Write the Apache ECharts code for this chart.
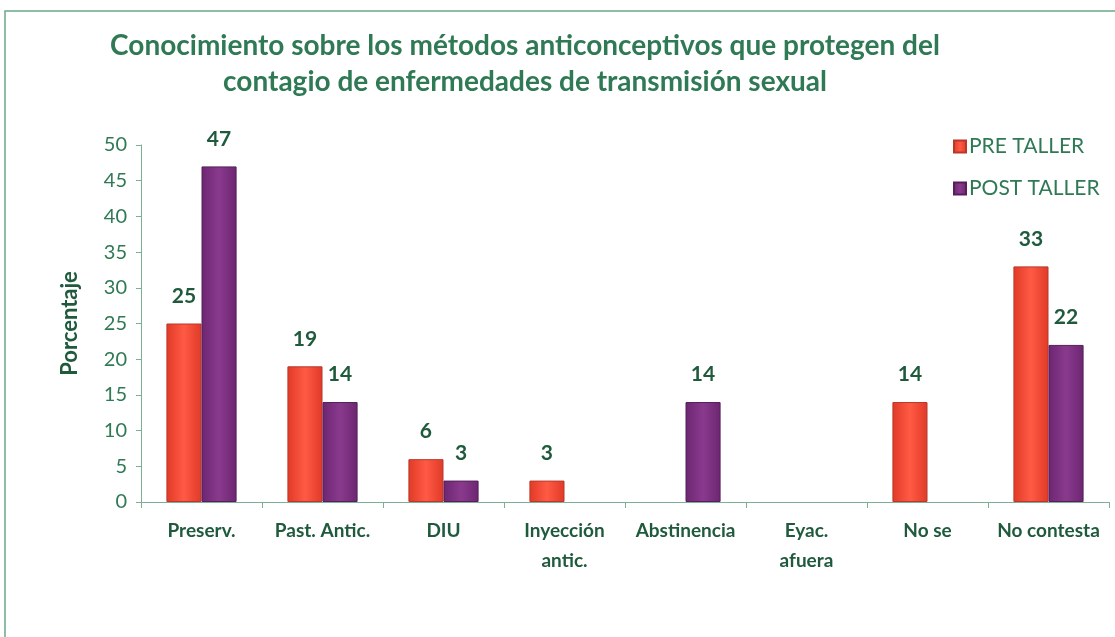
<!DOCTYPE html>
<html>
<head>
<meta charset="utf-8">
<script src="https://cdn.jsdelivr.net/npm/echarts@6/dist/echarts.min.js"></script>
<style>
  html, body { margin: 0; padding: 0; background: #fff; }
  #main { width: 1115px; height: 637px; }
</style>
</head>
<body>
<div id="main"></div>
<script>
const categories = ['Preserv.', 'Past. Antic.', 'DIU', 'Inyección\nantic.', 'Abstinencia', 'Eyac.\nafuera', 'No se', 'No contesta']
const preTaller = [25, 19, 6, 3, null, null, 14, 33]
const postTaller = [47, 14, 3, null, 14, null, null, 22]
const yTicks = { min: 0, max: 50, interval: 5 }

const green = '#2f7a55'
const labelGreen = '#1f5a3c'

const chart = echarts.init(document.getElementById('main'))

function barColor (top, bottom) {
  return new echarts.graphic.LinearGradient(0, 0, 1, 0, [
    { offset: 0, color: bottom },
    { offset: 0.5, color: top },
    { offset: 1, color: bottom }
  ])
}

chart.setOption({
  animation: false,
  title: {
    text: 'Conocimiento sobre los métodos anticonceptivos que protegen del\ncontagio de enfermedades de transmisión sexual',
    left: 520,
    top: 23,
    textAlign: 'center',
    textStyle: {
      fontFamily: 'Lato',
      fontWeight: 'bold',
      fontSize: 28,
      lineHeight: 36,
      color: green
    }
  },
  legend: {
    orient: 'vertical',
    left: 948,
    top: 131,
    itemGap: 21,
    itemWidth: 12,
    itemHeight: 12,
    icon: 'rect',
    textStyle: { fontFamily: 'Lato', fontSize: 21, color: green, padding: [0, 0, 0, -2] },
    data: ['PRE TALLER', 'POST TALLER']
  },
  graphic: [{
    type: 'rect',
    shape: { x: 5, y: 11, width: 1130, height: 640 },
    style: { fill: 'none', stroke: '#6aa888', lineWidth: 1.5 },
    silent: true
  }],
  grid: { left: 141, right: 6, top: 145, bottom: 135 },
  xAxis: {
    type: 'category',
    data: categories,
    axisLine: { lineStyle: { color: '#7fae96' } },
    axisTick: { show: true, length: 6, lineStyle: { color: '#7fae96' } },
    axisLabel: {
      fontFamily: 'Lato',
      fontWeight: 'bold',
      fontSize: 19,
      lineHeight: 30,
      color: labelGreen,
      margin: 14,
      interval: 0
    }
  },
  yAxis: {
    type: 'value',
    min: yTicks.min,
    max: yTicks.max,
    interval: yTicks.interval,
    name: 'Porcentaje',
    nameLocation: 'middle',
    nameGap: 60,
    nameTextStyle: { fontFamily: 'Lato', fontWeight: 'bold', fontSize: 22, color: labelGreen },
    axisLine: { show: true, lineStyle: { color: '#7fae96' } },
    axisTick: { show: true, length: 5, inside: false, lineStyle: { color: '#7fae96' } },
    splitLine: { show: false },
    axisLabel: { fontFamily: 'Lato', fontSize: 20, color: green, margin: 14 }
  },
  series: [
    {
      name: 'PRE TALLER',
      type: 'bar',
      data: preTaller,
      barGap: '0%',
      barCategoryGap: '42%',
      color: '#f04a35',
      itemStyle: { color: barColor('#ff5a44', '#e03a28'), borderColor: '#b8392a', borderWidth: 1 },
      label: {
        show: true,
        position: 'top',
        distance: 17,
        fontFamily: 'Lato',
        fontWeight: 'bold',
        fontSize: 21,
        color: labelGreen
      }
    },
    {
      name: 'POST TALLER',
      type: 'bar',
      data: postTaller,
      color: '#7b2f80',
      itemStyle: { color: barColor('#8a3a8e', '#6c2670'), borderColor: '#55205a', borderWidth: 1 },
      label: {
        show: true,
        position: 'top',
        distance: 17,
        fontFamily: 'Lato',
        fontWeight: 'bold',
        fontSize: 21,
        color: labelGreen
      }
    }
  ]
})

window.addEventListener('resize', () => chart.resize())
</script>
</body>
</html>
